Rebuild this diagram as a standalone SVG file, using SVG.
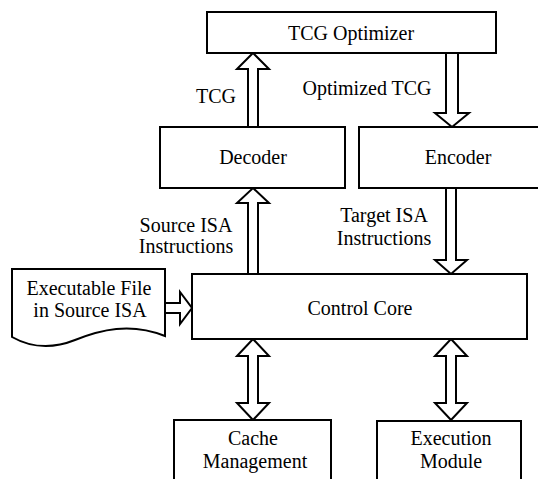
<svg xmlns="http://www.w3.org/2000/svg" width="538" height="479" viewBox="0 0 538 479">
<style>
.box{fill:#fff;stroke:#000;stroke-width:2}
.arr{fill:#fff;stroke:#000;stroke-width:2;stroke-linejoin:miter}
.t{font-family:"Liberation Serif","Times New Roman",serif;font-size:20px;fill:#000;text-anchor:middle}
</style>
<rect width="538" height="479" fill="#fff"/>
<g id="connectors">
<polygon class="arr" points="248,127 248,69 237,69 253,53 269,69 258,69 258,127"/>
<polygon class="arr" points="446,53 446,113 435,113 452,127 469,113 458,113 458,53"/>
<polygon class="arr" points="248,274 248,203 237,203 253,188 269,203 258,203 258,274"/>
<polygon class="arr" points="446,188 446,260 435,260 451,274 467,260 456,260 456,188"/>
<polygon class="arr" points="165,303 180,303 180,292 192,308 180,324 180,313 165,313"/>
<polygon class="arr" points="253,339 269,356 258,356 258,403 269,403 253,420 237,403 248,403 248,356 237,356"/>
<polygon class="arr" points="451,339 467,356 456,356 456,403 467,403 451,420 435,403 446,403 446,356 435,356"/>
<text class="t" x="216" y="103">TCG</text>
<text class="t" x="367" y="95">Optimized TCG</text>
<text class="t" x="186" y="232">Source ISA</text>
<text class="t" x="186" y="253">Instructions</text>
<text class="t" x="384" y="222">Target ISA</text>
<text class="t" x="384" y="245">Instructions</text>
</g>
<g id="optimizer"><rect class="box" x="207" y="12" width="289" height="41"/><text class="t" x="351" y="40">TCG Optimizer</text></g>
<g id="decoder"><rect class="box" x="160" y="127" width="185" height="61"/><text class="t" x="253" y="164">Decoder</text></g>
<g id="encoder"><rect class="box" x="359" y="127" width="200" height="61"/><text class="t" x="458" y="164">Encoder</text></g>
<g id="control"><rect class="box" x="192" y="274" width="335" height="65"/><text class="t" x="360" y="315">Control Core</text></g>
<g id="file"><path class="box" d="M12,269 H165 V336 C130,322 100,330 75,340 C50,350 28,346 12,337 Z"/><text class="t" x="89" y="295">Executable File</text><text class="t" x="90" y="317">in Source ISA</text></g>
<g id="cache"><rect class="box" x="174" y="420" width="157" height="80"/><text class="t" x="253" y="445">Cache</text><text class="t" x="255" y="468">Management</text></g>
<g id="exec"><rect class="box" x="377" y="421" width="144" height="80"/><text class="t" x="451" y="445">Execution</text><text class="t" x="451" y="468">Module</text></g>
</svg>
